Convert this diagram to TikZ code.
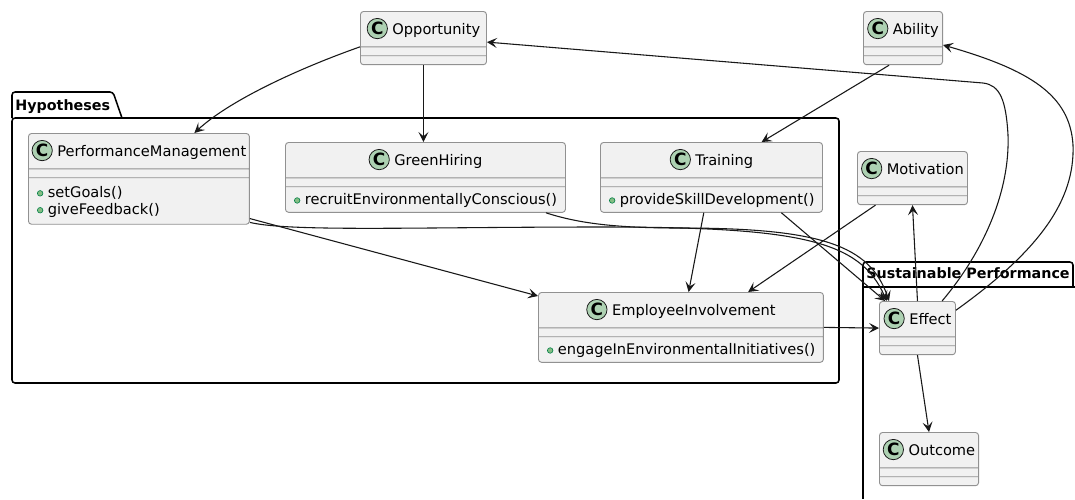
\documentclass[tikz,border=0pt]{standalone}
\usepackage{fontspec}
\setmainfont{DejaVu Sans}
\usepackage{color}
\definecolor{umlfill}{RGB}{241,241,241}
\definecolor{umlline}{RGB}{24,24,24}
\definecolor{umlgray}{RGB}{145,145,145}
\definecolor{classgreen}{RGB}{173,209,178}
\definecolor{pubfill}{RGB}{132,190,132}
\definecolor{publine}{RGB}{3,128,72}
\usepackage{tikz}
\usetikzlibrary{calc,shapes.multipart,arrows.meta,positioning}
\tikzstyle{umlclass}=[rectangle split,rectangle split parts=3,draw=umlgray,fill=umlfill,line width=0.6pt,rounded corners=2pt,inner xsep=2pt,inner ysep=0pt,align=left,rectangle split part align={center,left,left},anchor=north west,font=\fontsize{9.5}{11}\selectfont]
\tikzstyle{dep}=[draw=umlline,line width=0.7pt,-{Stealth[length=6.5pt,width=6.5pt,inset=2.8pt]}]
\tikzstyle{pkg}=[draw=black,line width=1pt]
\tikzstyle{pkgname}=[anchor=base west,inner sep=0pt,font=\fontsize{9.3}{11}\selectfont\bfseries]
\newcommand{\cmark}{\tikz[baseline=-3.9pt]\filldraw[fill=classgreen,draw=umlline,line width=0.5pt] (0,0) circle (6.6pt);\llap{\makebox[13.7pt]{\fontsize{11}{11}\selectfont\bfseries C}}}
\newcommand{\ctitle}[1]{\rule[-7.7pt]{0pt}{22.4pt}\cmark\hspace{3pt}#1}
\newcommand{\nofield}{\rule{0pt}{5.2pt}}
\newcommand{\pub}[1]{\hspace*{3.6pt}\tikz[baseline=-2.8pt]\filldraw[fill=pubfill,draw=publine,line width=0.4pt] (0,0) circle (1.8pt);\hspace{3pt}#1}
\newcommand{\ops}[1]{\rule{0pt}{11.4pt}#1\rule[-4.6pt]{0pt}{0pt}}

\begin{document}
\begin{tikzpicture}[x=0.65pt,y=-0.65pt]
\fill[white] (0,0) rectangle (1075,499);
\useasboundingbox (0,0) rectangle (1075,499);

\draw[pkg,rounded corners=2pt] (12,118) -- (12,92) -- (113,92) -- (122,118);
\draw[pkg,rounded corners=2pt] (12,118) rectangle (839,383);
\node[pkgname] (hyp) at (15,110.5) {Hypotheses};
\draw[pkg,rounded corners=2pt] (863,287) -- (863,262) -- (1073,262) -- (1073,287);
\draw[pkg] (1075,287) -- (863,287) -- (863,499);
\node[pkgname] (sus) at (866,278.7) {Sustainable Performance};

\node[umlclass,minimum width=81.9pt] (opp) at (360,11)
  {\ctitle{Opportunity}\nodepart{two}\nofield\nodepart{three}\nofield};
\node[umlclass,minimum width=51.4pt] (abil) at (863,11)
  {\ctitle{Ability}\nodepart{two}\nofield\nodepart{three}\nofield};
\node[umlclass,minimum width=143.6pt] (pm) at (28,133)
  {\ctitle{PerformanceManagement}\nodepart{two}\nofield
   \nodepart{three}\rule{0pt}{12.6pt}\pub{setGoals()}\\\pub{giveFeedback()}\rule[-6pt]{0pt}{0pt}};
\node[umlclass,minimum width=182pt] (gh) at (285,142)
  {\ctitle{GreenHiring}\nodepart{two}\nofield
   \nodepart{three}\ops{\pub{recruitEnvironmentallyConscious()}}};
\node[umlclass,minimum width=144.3pt] (tr) at (600,142)
  {\ctitle{Training}\nodepart{two}\nofield
   \nodepart{three}\ops{\pub{provideSkillDevelopment()}}};
\node[umlclass,minimum width=71.5pt] (mot) at (857,151)
  {\ctitle{Motivation}\nodepart{two}\nofield\nodepart{three}\nofield};
\node[umlclass,minimum width=185.2pt] (ei) at (538,292)
  {\ctitle{EmployeeInvolvement}\nodepart{two}\nofield
   \nodepart{three}\ops{\pub{engageInEnvironmentalInitiatives()}}};
\node[umlclass,minimum width=49.4pt] (eff) at (879,301)
  {\ctitle{Effect}\nodepart{two}\nofield\nodepart{three}\nofield};
\node[umlclass,minimum width=64.4pt] (out) at (879,432)
  {\ctitle{Outcome}\nodepart{two}\nofield\nodepart{three}\nofield};

\draw[dep] (opp.text split west) .. controls (300,68) and (230,100) .. ($(pm.north)!0.5!(pm.north east)$);
\draw[dep] (opp.south) -- (opp.south |- gh.north);
\draw[dep] ([xshift=-9pt]abil.south) -- ($(tr.north)!0.45!(tr.north east)$);
\draw[dep] ([yshift=4pt]pm.south east) -- ([yshift=-2.6pt]ei.north west);
\draw[dep] ([xshift=-5pt]tr.south) -- ([xshift=5pt]ei.north);
\draw[dep] ([xshift=12pt]mot.south west) -- ($(ei.north)!0.47!(ei.north east)$);
\draw[dep] (ei.east) -- (eff.west);
\draw[dep] ([yshift=1.5pt]pm.south east) .. controls (290,232) and (420,227) .. (600,227)
  .. controls (800,227) and (860,240) .. ([xshift=5pt]eff.north west);
\draw[dep] ([xshift=-13pt]gh.south east) .. controls (580,224) and (620,228) .. (680,228)
  .. controls (820,228) and (870,245) .. ([xshift=6.5pt]eff.north west);
\draw[dep] ([xshift=-27pt]tr.south east) -- ([xshift=4pt]eff.north west);
\draw[dep] (eff.north) -- (mot.south);
\draw[dep] ([xshift=-9pt]eff.north east) .. controls (985,250) and (1010,190) .. (1008,135)
  .. controls (1006,100) and (1000,85) .. (983,83) -- ([yshift=-2.6pt]opp.east);
\draw[dep] ([yshift=-6pt]eff.north east) .. controls (1040,250) and (1075,200) .. (1073,145)
  .. controls (1070,95) and (1030,70) .. ([yshift=-4.5pt]abil.east);
\draw[dep] (eff.south) -- (out.north);
\end{tikzpicture}
\end{document}
